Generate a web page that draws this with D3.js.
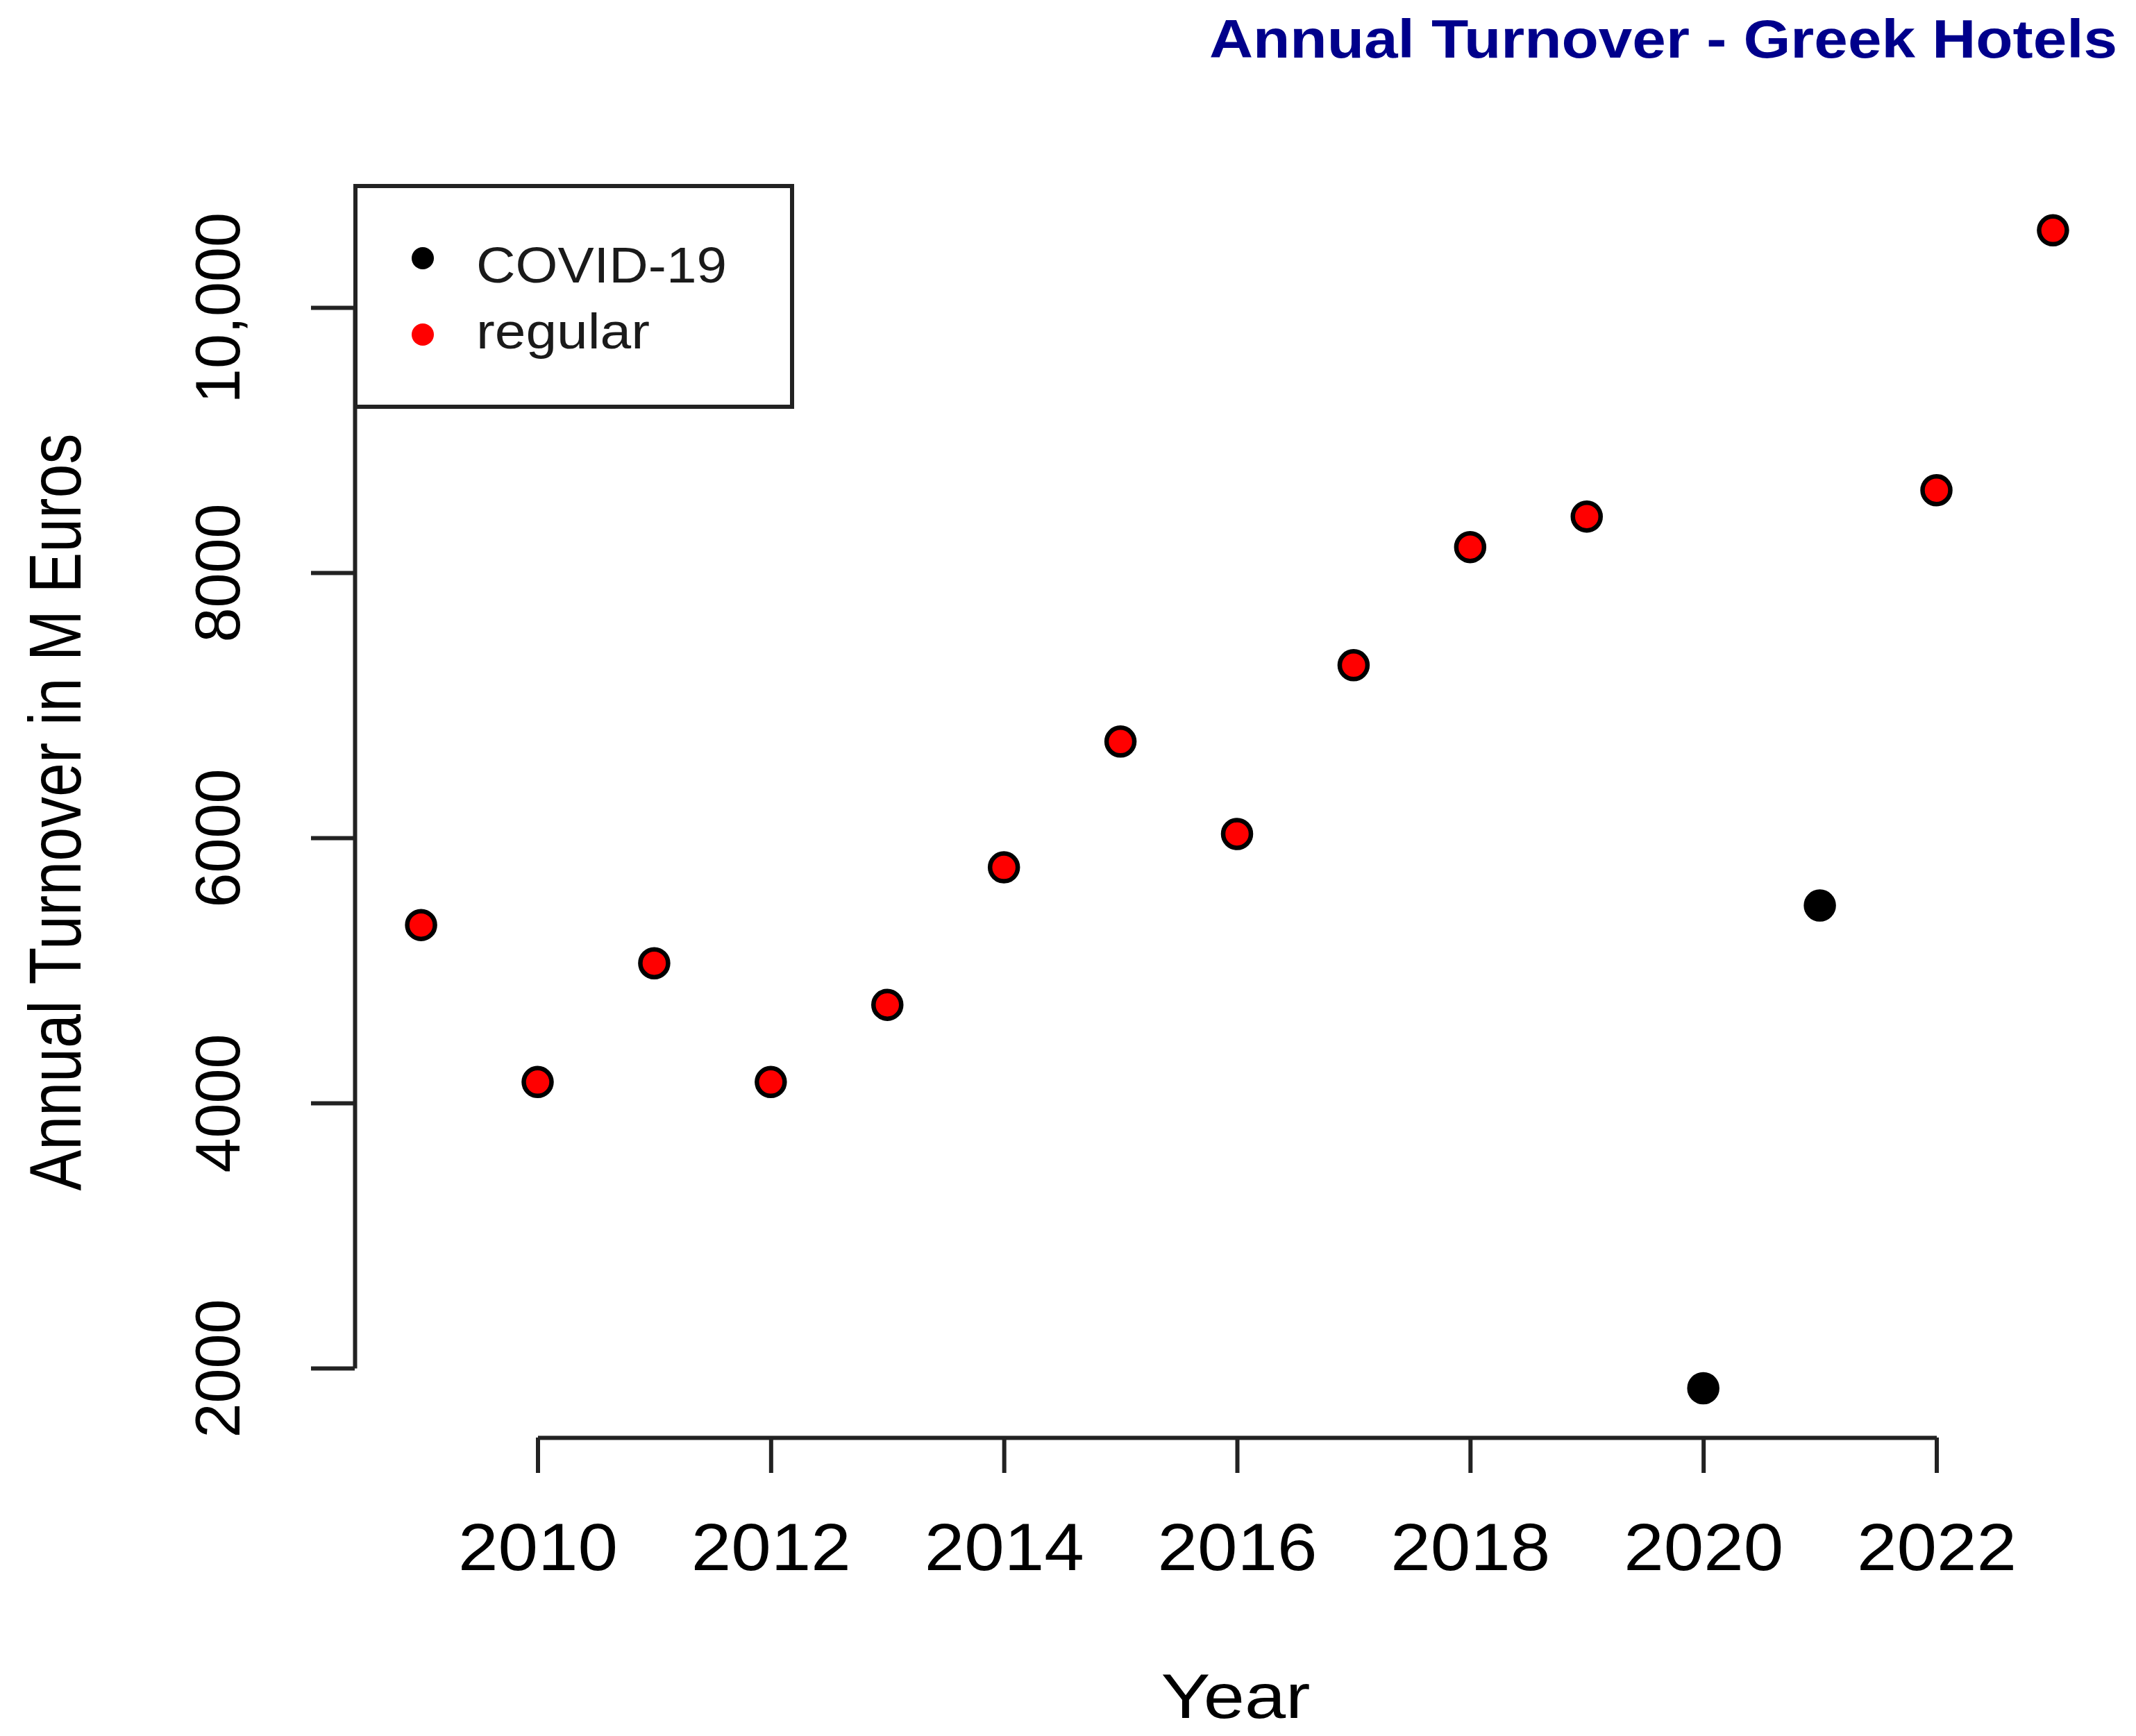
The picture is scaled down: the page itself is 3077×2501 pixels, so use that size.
<!DOCTYPE html>
<html>
<head>
<meta charset="utf-8">
<script src="https://cdn.jsdelivr.net/npm/d3@7"></script>
<style>
  html, body { margin: 0; padding: 0; background: #ffffff; }
  svg { display: block; }
  text { font-family: "Liberation Sans", Arial, Helvetica, sans-serif; }
</style>
</head>
<body>
<svg id="chart" width="3077" height="2501"></svg>
<script>
// ---- data ----
const years = [2009, 2010, 2011, 2012, 2013, 2014, 2015, 2016, 2017, 2018, 2019, 2020, 2021, 2022, 2023];
const turnover = [5342, 4158, 5054, 4158, 4740, 5777, 6726, 6029, 7302, 8193, 8423, 1848, 5489, 8622, 10582];
const period = ["regular", "regular", "regular", "regular", "regular", "regular", "regular", "regular",
                "regular", "regular", "regular", "COVID-19", "COVID-19", "regular", "regular"];
const xTickValues = [2010, 2012, 2014, 2016, 2018, 2020, 2022];
const yTickValues = [2000, 4000, 6000, 8000, 10000];
const yTickLabels = ["2000", "4000", "6000", "8000", "10,000"];
const legendLabels = ["COVID-19", "regular"];
const legendColors = ["#000000", "#ff0000"];
const titleText = "Annual Turnover - Greek Hotels";
const xTitle = "Year";
const yTitle = "Annual Turnover in M Euros";

// ---- layout ----
const svg = d3.select("#chart");
const axisColor = "#222222";
const lineW = 6;
const x = d3.scaleLinear().domain([2010, 2022]).range([774.5, 2789.5]);
const y = d3.scaleLinear().domain([2000, 10000]).range([1971, 443]);
const colorOf = d3.scaleOrdinal().domain(legendLabels).range(legendColors);

// x axis
const xAxisG = svg.append("g")
  .attr("transform", "translate(0,2071)")
  .call(d3.axisBottom(x).tickValues(xTickValues).tickSize(51).tickSizeOuter(0).tickFormat(d3.format("d")));
xAxisG.select(".domain").attr("stroke", axisColor).attr("stroke-width", lineW);
xAxisG.selectAll(".tick line").attr("stroke", axisColor).attr("stroke-width", lineW);
xAxisG.selectAll(".tick text")
  .attr("y", 191).attr("dy", 0)
  .attr("fill", "#000")
  .attr("font-size", 96)
  .attr("textLength", 230)
  .attr("lengthAdjust", "spacingAndGlyphs");

// y axis
const yAxisG = svg.append("g")
  .attr("transform", "translate(511,0)")
  .call(d3.axisLeft(y).tickValues(yTickValues).tickSize(63).tickSizeOuter(0)
        .tickFormat((d, i) => yTickLabels[i]));
yAxisG.select(".domain").attr("stroke", axisColor).attr("stroke-width", lineW);
yAxisG.selectAll(".tick line").attr("stroke", axisColor).attr("stroke-width", lineW);
yAxisG.selectAll(".tick text")
  .attr("x", null).attr("dy", 0)
  .attr("text-anchor", "middle")
  .attr("transform", "translate(-166,0) rotate(-90)")
  .attr("fill", "#000")
  .attr("font-size", 90);

// legend box
const legend = svg.append("g");
legend.append("rect")
  .attr("x", 512).attr("y", 268).attr("width", 629).attr("height", 318)
  .attr("fill", "none").attr("stroke", axisColor).attr("stroke-width", lineW);
const legendItems = legend.selectAll("g.item").data(legendLabels).enter().append("g")
  .attr("class", "item")
  .attr("transform", (d, i) => `translate(0,${372 + i * 110})`);
legendItems.append("circle")
  .attr("cx", 609).attr("cy", 0).attr("r", 16)
  .attr("fill", d => colorOf(d));
legendItems.append("text")
  .attr("x", 686).attr("y", 0).attr("dy", (d, i) => i === 0 ? 35 : 20)
  .attr("font-size", 72)
  .attr("fill", "#1a1a1a")
  .attr("textLength", (d, i) => i === 0 ? 361 : 250)
  .attr("lengthAdjust", "spacingAndGlyphs")
  .text(d => d);

// points
svg.append("g").selectAll("circle").data(years).enter().append("circle")
  .attr("cx", (d) => x(d))
  .attr("cy", (d, i) => y(turnover[i]))
  .attr("r", 20)
  .attr("fill", (d, i) => colorOf(period[i]))
  .attr("stroke", "#000")
  .attr("stroke-width", 6.5);

// title
svg.append("text")
  .attr("x", 1742).attr("y", 83)
  .attr("font-size", 77).attr("font-weight", "bold")
  .attr("fill", "#00008B")
  .attr("textLength", 1308).attr("lengthAdjust", "spacingAndGlyphs")
  .text(titleText);

// axis titles
svg.append("text")
  .attr("x", 1780).attr("y", 2475)
  .attr("text-anchor", "middle")
  .attr("font-size", 91)
  .attr("fill", "#000")
  .attr("textLength", 215).attr("lengthAdjust", "spacingAndGlyphs")
  .text(xTitle);

svg.append("text")
  .attr("transform", "translate(116,1170) rotate(-90)")
  .attr("text-anchor", "middle")
  .attr("font-size", 106)
  .attr("fill", "#000")
  .attr("textLength", 1091).attr("lengthAdjust", "spacingAndGlyphs")
  .text(yTitle);
</script>
</body>
</html>
